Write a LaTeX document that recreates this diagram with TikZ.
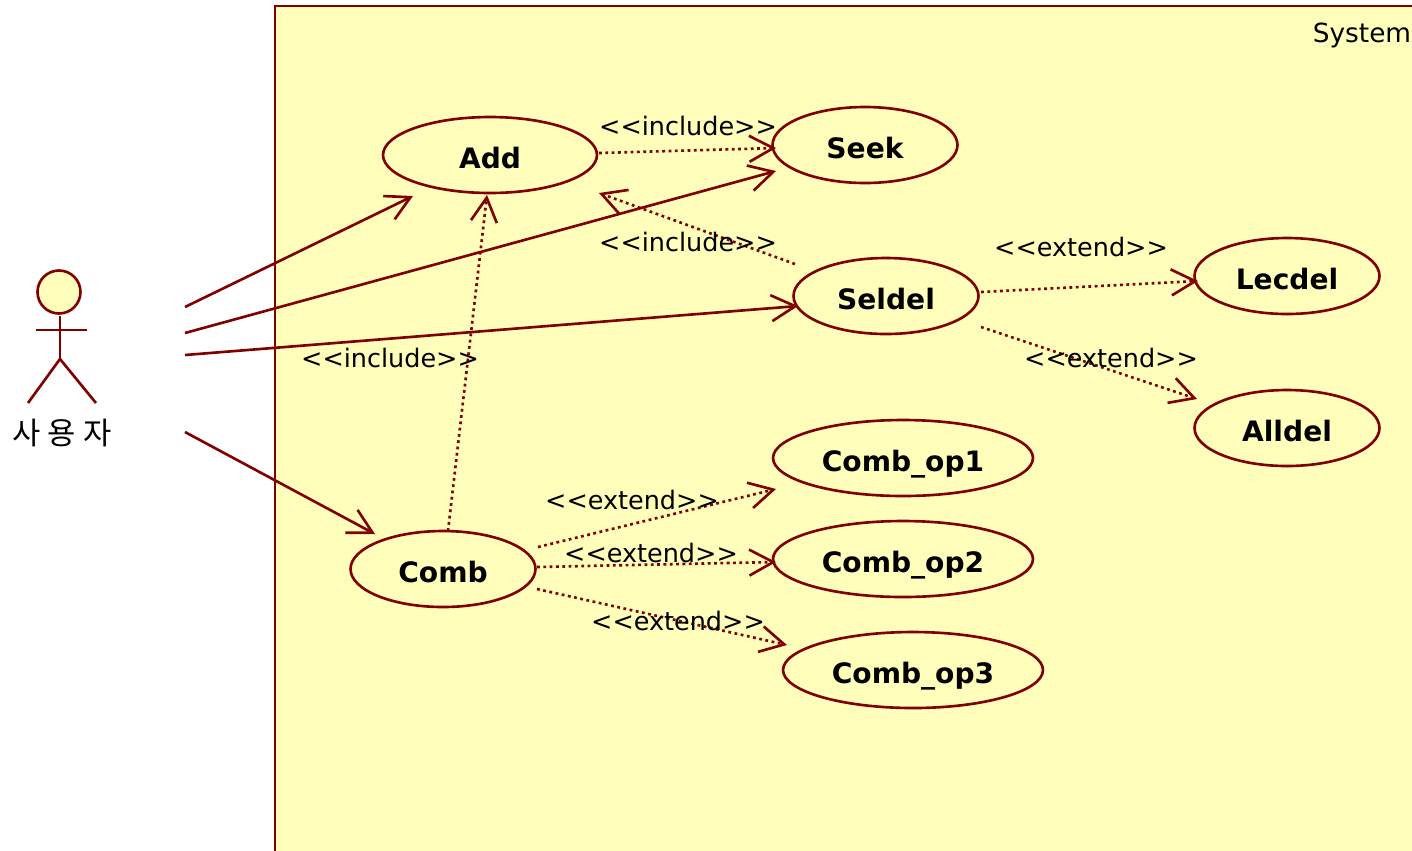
\documentclass[tikz,border=0pt]{standalone}
\usepackage{fontspec}
\setmainfont{DejaVu Sans}
\newfontfamily\krfont{Noto Sans CJK KR}
\usetikzlibrary{shapes.geometric, arrows.meta, calc}
\definecolor{umlred}{HTML}{800000}
\definecolor{umlfill}{HTML}{FFFFBB}
\tikzstyle{usecase} = [ellipse, minimum width=3.7cm, minimum height=1.52cm, inner sep=0pt, text height=0.52cm, text depth=0cm, draw=umlred, fill=umlfill, line width=1.5pt, font=\fontsize{16}{18}\selectfont\bfseries]
\tikzstyle{wideuse} = [usecase, minimum width=5.2cm]
\tikzstyle{stereo} = [inner sep=0pt, font=\fontsize{14.5}{18}\selectfont]
\tikzstyle{stick} = [draw=umlred, line width=1.5pt]
\tikzstyle{assoc} = [stick, -{Straight Barb[length=0.48cm, width=0.52cm, line width=1.5pt]}]
\tikzstyle{dep} = [assoc, dash pattern=on 1.6pt off 2pt]
\begin{document}
\begin{tikzpicture}[x=0.02cm, y=-0.02cm]
        \useasboundingbox (0,0) rectangle (1412,850);
        \draw [stick, fill=umlfill] (275,6) rectangle (1440,880);
        \node (system) [stereo, font=\fontsize{15}{18}\selectfont] at (1362,35) {System};

        \node (head) [circle, stick, fill=umlfill, minimum size=0.86cm, inner sep=0pt] at (59,292) {};
        \coordinate (neck) at (60,316);
        \coordinate (hip) at (60,359);
        \coordinate (arm_l) at (36,330);
        \coordinate (arm_r) at (87,330);
        \coordinate (foot_l) at (28,403);
        \coordinate (foot_r) at (96,403);
        \draw [stick] (neck) -- (hip);
        \draw [stick] (arm_l) -- (arm_r);
        \draw [stick] (foot_l) -- (hip) -- (foot_r);
        \node (user) [stereo, font=\fontsize{17.5}{20}\selectfont] at (62,433) {\krfont 사\kern4pt 용\kern4pt 자};
        \coordinate (user_a) at (185,307);
        \coordinate (user_b) at (185,333);
        \coordinate (user_c) at (185,355);
        \coordinate (user_d) at (185,432);

        \node (add) [usecase, minimum width=4.28cm] at (490,155) {Add};
        \node (seek) [usecase] at (865,145) {Seek};
        \node (seldel) [usecase] at (886,296) {Seldel};
        \node (lecdel) [usecase] at (1287,276) {Lecdel};
        \node (alldel) [usecase] at (1287,428) {Alldel};
        \node (comb) [usecase] at (443,569) {Comb};
        \node (comb_op1) [wideuse] at (903,458) {Comb\_op1};
        \node (comb_op2) [wideuse] at (903,559) {Comb\_op2};
        \node (comb_op3) [wideuse] at (913,670) {Comb\_op3};

        \draw [assoc] (user_a) -- ($(add)+(-77,41)$);
        \draw [assoc] (user_b) -- ($(seek)+(-89,26)$);
        \draw [assoc] (user_c) -- ($(seldel)+(-88,10)$);
        \draw [assoc] (user_d) -- ($(comb)+(-68,-35)$);

        \draw [dep] ($(add)+(109,-2)$) -- ($(seek)+(-89,3)$);
        \draw [dep] ($(seldel)+(-91,-32)$) -- ($(add)+(109,38)$);
        \draw [dep] ($(comb)+(5,-38)$) -- ($(add)+(-3,40)$);
        \draw [dep] ($(seldel)+(95,-4)$) -- ($(lecdel)+(-89,5)$);
        \draw [dep] ($(seldel)+(95,31)$) -- ($(alldel)+(-90,-29)$);
        \draw [dep] ($(comb)+(95,-22)$) -- ($(comb_op1)+(-127,31)$);
        \draw [dep] ($(comb)+(94,-2)$) -- ($(comb_op2)+(-127,3)$);
        \draw [dep] ($(comb)+(94,20)$) -- ($(comb_op3)+(-126,-25)$);

        \node (inc_seek) [stereo] at (688,126) {<{}<include>{}>};
        \node (inc_del) [stereo] at (688,242) {<{}<include>{}>};
        \node (inc_comb) [stereo] at (390,358) {<{}<include>{}>};
        \node (ext_lec) [stereo] at (1081,247) {<{}<extend>{}>};
        \node (ext_all) [stereo] at (1111,358) {<{}<extend>{}>};
        \node (ext_op1) [stereo] at (632,500) {<{}<extend>{}>};
        \node (ext_op2) [stereo] at (651,553) {<{}<extend>{}>};
        \node (ext_op3) [stereo] at (678,621) {<{}<extend>{}>};
    \end{tikzpicture}
\end{document}
